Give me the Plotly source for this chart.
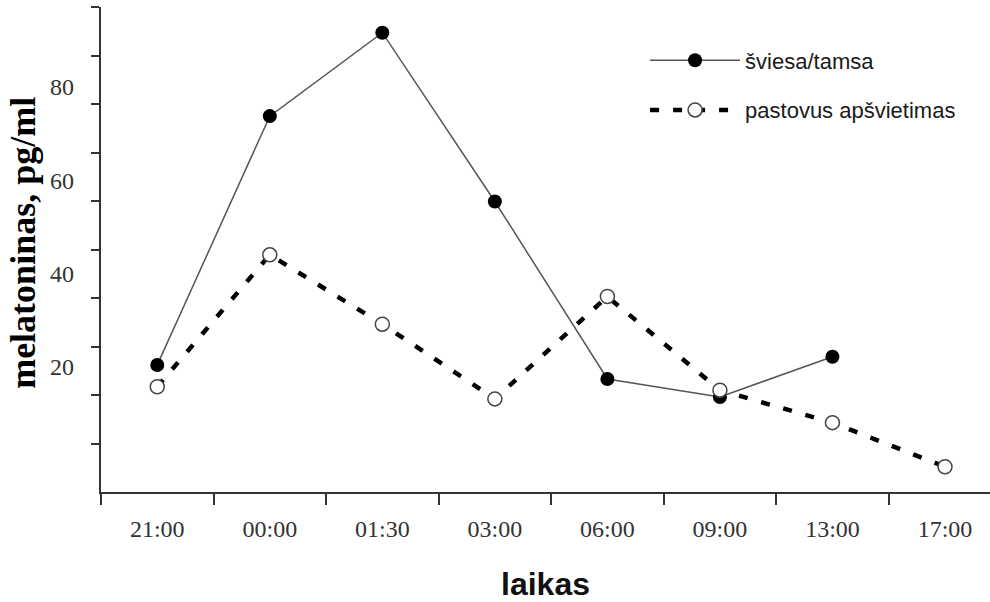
import plotly.graph_objects as go

# Sampling times (category axis)
times = ["21:00", "00:00", "01:30", "03:00", "06:00", "09:00", "13:00", "17:00"]

# Melatonin concentration, pg/ml
light_dark = [26.2, 77.5, 94.7, 59.9, 23.3, 19.6, 27.9, None]
constant_light = [21.7, 48.9, 34.6, 19.2, 40.3, 21.0, 14.3, 5.2]

# Labelled values on the y axis
y_label_vals = [20, 40, 60, 80]
y_tick_vals = [10, 20, 30, 40, 50, 60, 70, 80, 90, 100]

serif = "Liberation Serif, Times New Roman, serif"
sans = "Liberation Sans, Arial, sans-serif"

fig = go.Figure()

fig.add_trace(go.Scatter(
    x=times, y=light_dark, name="šviesa/tamsa",
    mode="lines+markers", legendgroup="a",
    line=dict(color="#555555", width=1.5),
    marker=dict(symbol="circle", size=14, color="#000000",
                line=dict(color="#000000", width=0)),
    connectgaps=False,
))

fig.add_trace(go.Scatter(
    x=times, y=constant_light, name="pastovus apšvietimas",
    mode="lines+markers", legendgroup="b",
    line=dict(color="#000000", width=4.5, dash="9px,14px"),
    marker=dict(symbol="circle", size=14, color="#ffffff",
                line=dict(color="#444444", width=1.5)),
))

# Invisible trace carrying the y tick labels on the overlay axis
fig.add_trace(go.Scatter(
    x=[times[0]], y=[None], yaxis="y2", showlegend=False,
    hoverinfo="skip", mode="markers",
))

fig.update_layout(
    width=990, height=602,
    margin=dict(l=101, r=0, t=7, b=110),
    paper_bgcolor="white", plot_bgcolor="white",
    showlegend=True,
    legend=dict(
        x=0.612, y=0.933, xanchor="left", yanchor="top",
        font=dict(family=sans, size=22, color="#1a1a1a"),
        bgcolor="rgba(0,0,0,0)", borderwidth=0,
        traceorder="grouped", tracegroupgap=18,
        itemwidth=90,
    ),
    xaxis=dict(
        type="category", categoryorder="array", categoryarray=times,
        range=[-0.5, 7.4],
        tickson="boundaries",
        ticks="outside", ticklen=11, tickwidth=1.5, tickcolor="#333333",
        showline=True, linecolor="#333333", linewidth=1.5,
        showgrid=False, zeroline=False,
        tickfont=dict(family=serif, size=24, color="#333333"),
        ticklabelstandoff=14,
    ),
    yaxis=dict(
        range=[0, 100],
        tickvals=y_tick_vals,
        ticks="outside", ticklen=8, tickwidth=1.5, tickcolor="#333333",
        showticklabels=False,
        showline=True, linecolor="#333333", linewidth=1.5,
        showgrid=False, zeroline=False,
    ),
    yaxis2=dict(
        overlaying="y", side="left", anchor="x",
        range=[-6.8, 97.1],
        tickvals=y_label_vals,
        ticks="", showline=False, showgrid=False, zeroline=False,
        tickfont=dict(family=serif, size=24, color="#333333"),
        ticklabelstandoff=26,
    ),
    annotations=[
        dict(text="<b>melatoninas, pg/ml</b>", textangle=-90,
             xref="paper", yref="paper", x=-0.087, y=0.513,
             xanchor="center", yanchor="middle", showarrow=False,
             font=dict(family=serif, size=36, color="#000000")),
        dict(text="<b>laikas</b>",
             xref="paper", yref="paper", x=0.5, y=-0.19,
             xanchor="center", yanchor="middle", showarrow=False,
             font=dict(family=sans, size=32, color="#111111")),
    ],
)

fig.write_html("out.html")
